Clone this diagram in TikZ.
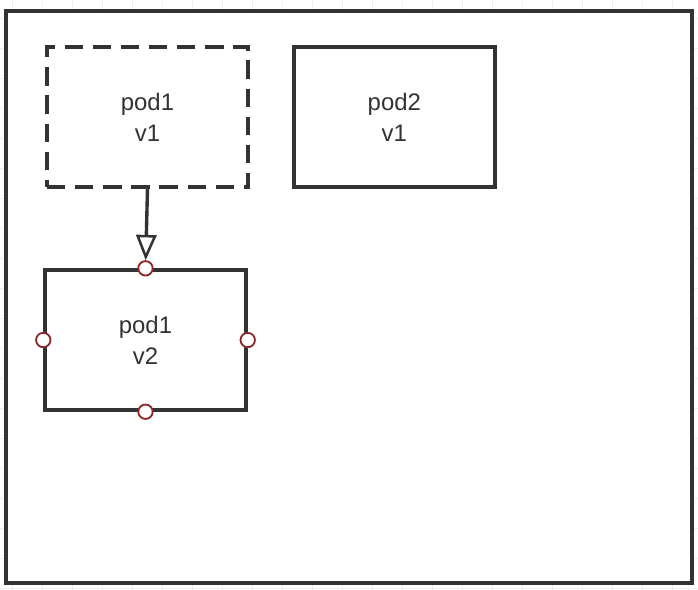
\documentclass[tikz,border=0pt]{standalone}
\usepackage{tikz, xcolor}
\usepackage{fontspec}
\setmainfont{Liberation Sans}
\usetikzlibrary{arrows.meta,positioning}

\definecolor{linegray}{HTML}{333333}
\definecolor{gridgray}{HTML}{EFEFEF}
\definecolor{portred}{HTML}{8B2A2A}

\begin{document}
\begin{tikzpicture}[x=0.025cm, y=-0.025cm,
    every node/.style = {text=linegray, font=\fontsize{17}{22}\selectfont, align=center},
    pod/.style = {rectangle, draw=linegray, line width=2.4pt,
                  minimum width=5.025cm, minimum height=3.5cm, inner sep=0pt},
    ghost/.style = {pod, dashed, dash pattern=on 13pt off 7pt},
    port/.style = {circle, draw=portred, fill=white, line width=1.3pt,
                   minimum size=0.36cm, inner sep=0pt},
    migrate/.style = {-{Triangle[open, length=18pt, width=14.5pt, line width=1.8pt]},
                      draw=linegray, line width=2.4pt}]

    \useasboundingbox (0,0) rectangle (698,590);
    % background grid
    \foreach \x in {12,42,...,690}
        \draw[gridgray, line width=0.6pt] (\x,0) -- (\x,590);
    \foreach \y in {18,48,...,590}
        \draw[gridgray, line width=0.6pt] (0,\y) -- (698,\y);

    % cluster
    \node[rectangle, draw=linegray, fill=white, line width=2.4pt,
          minimum width=17.15cm, minimum height=14.3cm] (node) at (349,297) {};

    \node[ghost] (pod1v1) at (147.5,117) {pod1\\v1};
    \node[pod, right=1.06cm of pod1v1] (pod2v1) {pod2\\v1};
    \node[pod, below=1.99cm of pod1v1, xshift=-0.05cm] (pod1v2) {pod1\\v2};

    \node[port] (pn) at (pod1v2.north) {};
    \node[port] (ps) at (pod1v2.south) {};
    \node[port] (pw) at (pod1v2.west) {};
    \node[port] (pe) at (pod1v2.east) {};

    \draw[migrate] (pod1v1.south) -- (pn);
\end{tikzpicture}
\end{document}
